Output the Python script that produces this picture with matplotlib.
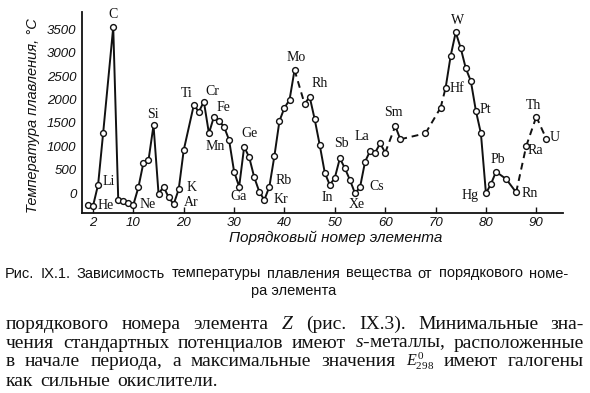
# Melting point vs atomic number (scanned textbook figure, Рис. IX.1)

import matplotlib.pyplot as plt

plt.rcParams['mathtext.fontset'] = 'custom'
plt.rcParams['mathtext.rm'] = 'Liberation Serif'
plt.rcParams['mathtext.it'] = 'Liberation Serif:italic'

W, H = 590, 393

# --- data ---
elements = ['H', 'He', 'Li', 'Be', 'C', 'N', 'O', 'F', 'Ne', 'Na', 'Mg', 'Al', 'Si', 'P',
            'S', 'Cl', 'Ar', 'K', 'Ca', 'Ti', 'V', 'Cr', 'Mn', 'Fe', 'Co', 'Ni', 'Cu', 'Zn',
            'Ga', 'Ge', 'As', 'Se', 'Br', 'Kr', 'Rb', 'Sr', 'Y', 'Zr', 'Nb', 'Mo',
            'Ru', 'Rh', 'Pd', 'Ag', 'Cd', 'In', 'Sn', 'Sb', 'Te', 'I', 'Xe', 'Cs', 'Ba',
            'La', 'Ce', 'Pr', 'Nd', 'Sm', 'Eu', 'Er', 'Lu', 'Hf', 'Ta', 'W', 'Re', 'Os',
            'Ir', 'Pt', 'Au', 'Hg', 'Tl', 'Pb', 'Po', 'Rn', 'Ra', 'Th', 'U']
z_number = [1, 2, 3, 4, 6, 7, 8, 9, 10, 11, 12, 13, 14, 15,
            16, 17, 18, 19, 20, 22, 23, 24, 25, 26, 27, 28, 29, 30,
            31, 32, 33, 34, 35, 36, 37, 38, 39, 40, 41, 42,
            44, 45, 46, 47, 48, 49, 50, 51, 52, 53, 54, 55, 56,
            57, 58, 59, 60, 62, 63, 68, 71, 72, 73, 74, 75, 76,
            77, 78, 79, 80, 81, 82, 84, 86, 88, 90, 92]
t_melt = [-259, -272, 180, 1285, 3550, -160, -180, -215, -250, 122, 650, 700, 1450, -20,
          135, -92, -240, 79, 920, 1884, 1741, 1955, 1278, 1634, 1541, 1420, 1135, 456,
          135, 991, 764, 336, 28, -150, 135, 792, 1541, 1827, 1991, 2634,
          1906, 2062, 1578, 1028, 435, 171, 328, 743, 529, 278, -6, 122, 670,
          900, 863, 1064, 863, 1435, 1150, 1278, 1827, 2255, 2940, 3441, 3099, 2670,
          2398, 1762, 1278, -6, 193, 456, 300, 15, 1006, 1634, 1156]
# link from these elements to the next one is drawn dashed
dashed_from = ['Mo', 'Nd', 'Eu', 'Er', 'Lu', 'Rn', 'Ra', 'Th']

y_ticks = [0, 500, 1000, 1500, 2000, 2500, 3000, 3500]
x_ticks = [2, 10, 20, 30, 40, 50, 60, 70, 80, 90]

# element label offsets in pixels from their point
label_offsets = {
    'He': (13, 0), 'Li': (11, 3), 'C': (0, 13), 'Ne': (14, 0), 'Si': (-1, 11),
    'K': (13, 2), 'Ar': (18, 2), 'Ti': (-7, 12), 'Cr': (8, 10), 'Fe': (10, 9),
    'Mn': (6, -13), 'Ga': (-1, -10), 'Ge': (5, 13), 'Kr': (17, 1), 'Rb': (14, 6),
    'Mo': (2, 13), 'Rh': (10, 13), 'In': (-3, -12), 'Sb': (2, 15), 'Xe': (2, -11),
    'Cs': (17, 1), 'La': (-8, 14), 'Sm': (-2, 13), 'Hf': (11, -1), 'W': (2, 12),
    'Pt': (9, 1), 'Hg': (-16, -2), 'Pb': (2, 12), 'Rn': (14, -1), 'Ra': (9, -4),
    'Th': (-3, 11), 'U': (8, 2),
}

fig = plt.figure(figsize=(W / 100, H / 100), dpi=100)
ax = fig.add_axes([82 / W, 1 - 213 / H, (563 - 82) / W, (213 - 12) / H])

# lines: group consecutive solid links into runs
ink = '#111111'
run_x, run_y = [z_number[0]], [t_melt[0]]
for i in range(len(z_number) - 1):
    if elements[i] in dashed_from:
        if len(run_x) > 1:
            ax.plot(run_x, run_y, color=ink, lw=1.4, zorder=2)
        ax.plot(z_number[i:i + 2], t_melt[i:i + 2], color=ink, lw=1.4,
                dashes=(3.5, 2.5), zorder=2)
        run_x, run_y = [z_number[i + 1]], [t_melt[i + 1]]
    else:
        run_x.append(z_number[i + 1])
        run_y.append(t_melt[i + 1])
if len(run_x) > 1:
    ax.plot(run_x, run_y, color=ink, lw=1.4, zorder=2)

ax.plot(z_number, t_melt, 'o', ms=4.2, mfc='white', mec=ink, mew=1.0, zorder=3)

for sym, (dx, dy) in label_offsets.items():
    i = elements.index(sym)
    ax.annotate(sym, (z_number[i], t_melt[i]), xytext=(dx, dy), textcoords='offset pixels',
                ha='center', va='center', fontsize=10, family='Liberation Serif', color=ink)

ax.set_xlim(-0.2, 95.3)
ax.set_ylim(-428, 3876)
ax.set_xticks(x_ticks)
ax.set_yticks(y_ticks)
ax.set_xticklabels([str(v) for v in x_ticks], fontsize=9.5, style='italic',
                   family='Liberation Sans')
ax.set_yticklabels([str(v) for v in y_ticks], fontsize=9.5, style='italic',
                   family='Liberation Sans')
ax.tick_params(axis='x', direction='in', length=4, width=1, pad=3, colors=ink)
ax.tick_params(axis='y', length=0, pad=4, colors=ink)
for s in ['top', 'right']:
    ax.spines[s].set_visible(False)
for s in ['left', 'bottom']:
    ax.spines[s].set_linewidth(1.3)
    ax.spines[s].set_color(ink)

fig.text(33 / W, 1 - 116 / H, 'Температура плавления, °C', rotation=90, ha='center',
         va='center', fontsize=10.5, style='italic', family='Liberation Sans', color=ink)
fig.text(336 / W, 1 - 238 / H, 'Порядковый номер элемента', ha='center', va='center',
         fontsize=11, style='italic', family='Liberation Sans', color=ink)


# --- caption and body text below the chart (justified like the book page) ---
def put_line(words, baseline, x0, x1, justify=True, gap=7, sizes=None, **kw):
    renderer = fig.canvas.get_renderer()
    objs = []
    for w in words:
        o = fig.text(0, 0, w, ha='left', va='baseline', color=ink, **kw)
        if sizes and w in sizes:
            o.set_fontsize(sizes[w])
        objs.append(o)
    widths = [o.get_window_extent(renderer).width for o in objs]
    if justify and len(words) > 1:
        gap = (x1 - x0 - sum(widths)) / (len(words) - 1)
    x = x0
    for o, w in zip(objs, widths):
        o.set_position((x / W, 1 - baseline / H))
        x += w + gap


cap_kw = dict(fontsize=10.5, family='Liberation Sans')
put_line(['Рис.', 'IX.1.', 'Зависимость', 'температуры', 'плавления', 'вещества', 'от',
          'порядкового', 'номе-'], 277.5, 5, 568, **cap_kw)
fig.text(294 / W, 1 - 295 / H, 'ра элемента', ha='center', va='baseline', color=ink, **cap_kw)

body_kw = dict(fontsize=14, family='Liberation Serif')
put_line(['порядкового', 'номера', 'элемента', '$Z$', '(рис.', 'IX.3).', 'Минимальные',
          'зна-'], 329, 6, 584, **body_kw)
put_line(['чения', 'стандартных', 'потенциалов', 'имеют', '$s$-металлы,', 'расположенные'],
         347.5, 6, 584, **body_kw)
put_line(['в', 'начале', 'периода,', 'а', 'максимальные', 'значения', '$E^{0}_{298}$',
          'имеют', 'галогены'], 366.5, 6, 584, sizes={'$E^{0}_{298}$': 11.5}, **body_kw)
put_line(['как', 'сильные', 'окислители.'], 386, 6, 584, justify=False, **body_kw)

fig.savefig('out.png', dpi=100, facecolor='white')
